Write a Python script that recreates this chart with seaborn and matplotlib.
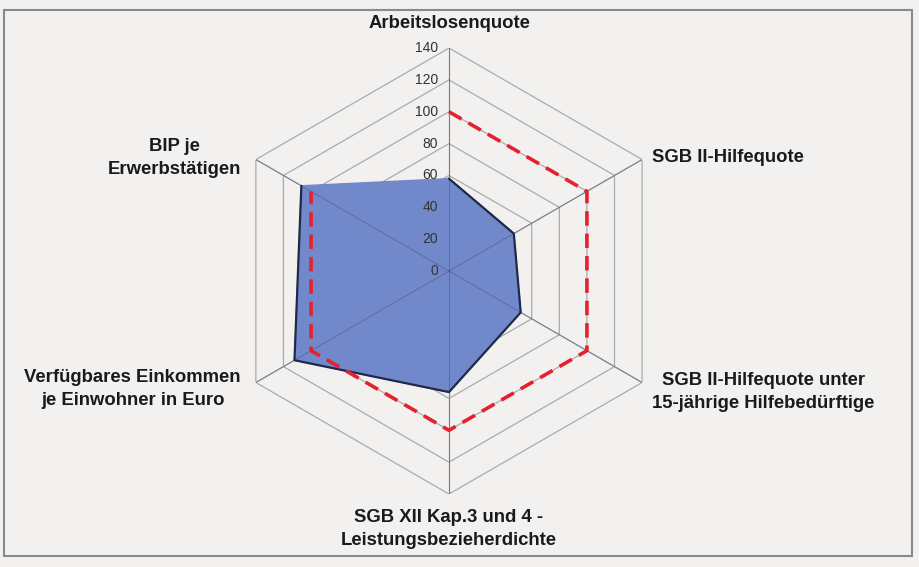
import numpy as np
import pandas as pd
import seaborn as sns
import matplotlib.pyplot as plt
from matplotlib.patches import Rectangle

# axes of the radar, clockwise from the top
categories = ['Arbeitslosenquote', 'SGB II-Hilfequote',
              'SGB II-Hilfequote unter\n15-jährige Hilfebedürftige',
              'SGB XII Kap.3 und 4 -\nLeistungsbezieherdichte',
              'Verfügbares Einkommen\nje Einwohner in Euro',
              'BIP je\nErwerbstätigen']
region = [58, 47, 52, 76, 112, 107]
reference = [100, 100, 100, 100, 100, 100]
ring_levels = [20, 40, 60, 80, 100, 120, 140]
tick_labels = ['0', '20', '40', '60', '80', '100', '120', '140']

sns.set_theme(style='white')
plt.rcParams['font.family'] = ['Liberation Sans', 'DejaVu Sans']

bg = '#f3f1ef'
fig = plt.figure(figsize=(9.19, 5.67), dpi=100, facecolor=bg)
ax = fig.add_axes([0.2459, 0.1287, 0.4853, 0.7866], projection='polar')
ax.set_facecolor('none')
ax.set_theta_zero_location('N')
ax.set_theta_direction(-1)
ax.set_ylim(0, 140)
ax.grid(False)
ax.spines['polar'].set_visible(False)
ax.set_xticks([])
ax.set_yticks([])

theta = np.linspace(0, 2 * np.pi, len(categories), endpoint=False)
closed = np.append(theta, theta[0])

# hexagonal grid rings and spokes
for lev in ring_levels:
    ax.plot(closed, [lev] * len(closed), color='#ababab', lw=0.9, zorder=1)
for t in theta:
    ax.plot([t, t], [0, 140], color='#ababab', lw=0.9, zorder=1)

df = pd.DataFrame({'theta': closed,
                   'region': region + region[:1],
                   'reference': reference + reference[:1]})

ax.fill(df['theta'], df['region'], color='#7189ca', zorder=2)
sns.lineplot(data=df, x='theta', y='region', sort=False, color='#1e2a48',
             lw=1.6, ax=ax, zorder=3)
# spokes visible through the fill
for t in theta:
    ax.plot([t, t], [0, 140], color='#4a5a88', lw=0.7, alpha=0.6, zorder=2.5)
sns.lineplot(data=df, x='theta', y='reference', sort=False, color='#e3222d',
             lw=2.6, ax=ax, zorder=4, dashes=False)
ax.lines[-1].set_dashes([4, 2.2])
ax.set_xlabel('')
ax.set_ylabel('')

# radial tick labels along the top spoke
for lab, lev in zip(tick_labels, [0] + ring_levels):
    ax.annotate(lab, xy=(0, lev), xytext=(-8, 0), textcoords='offset points',
                ha='right', va='center', fontsize=10, color='#333333', zorder=5)

# category labels
lab_kw = dict(fontsize=13.3, fontweight='bold', color='#1a1a1a',
              multialignment='center', linespacing=1.42)
fig.text(449 / 919, 1 - 24 / 567, categories[0], ha='center', va='center', **lab_kw)
fig.text(652 / 919, 1 - 158 / 567, categories[1], ha='left', va='center', **lab_kw)
fig.text(652 / 919, 1 - 392 / 567, categories[2], ha='left', va='center', **lab_kw)
fig.text(449 / 919, 1 - 529 / 567, categories[3], ha='center', va='center', **lab_kw)
fig.text(241 / 919, 1 - 389 / 567, categories[4], ha='right', va='center', **lab_kw)
fig.text(241 / 919, 1 - 158 / 567, categories[5], ha='right', va='center', **lab_kw)

# chart frame
fig.patches.append(Rectangle((4 / 919, 1 - 556 / 567), 908 / 919, 546 / 567,
                             transform=fig.transFigure, fill=False,
                             edgecolor='#8a8a8a', lw=1.5))

fig.savefig('out.png', dpi=100, facecolor=bg)
